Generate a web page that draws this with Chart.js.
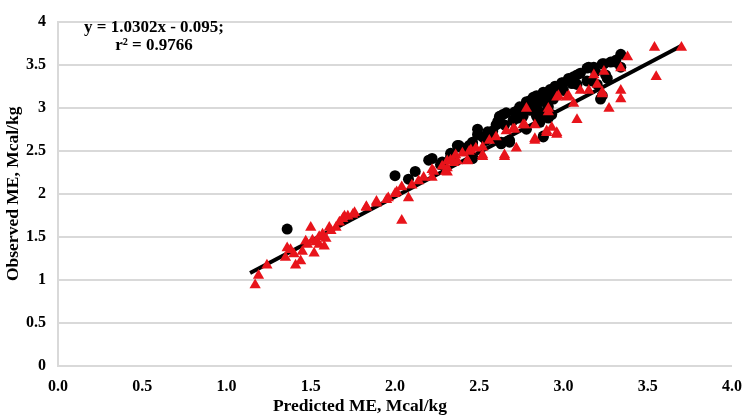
<!DOCTYPE html>
<html>
<head>
<meta charset="utf-8">
<script src="https://cdn.jsdelivr.net/npm/chart.js@4"></script>
<style>
  html, body { margin: 0; padding: 0; background: #fff; }
  #wrap { width: 742px; height: 420px; position: relative; }
</style>
</head>
<body>
<div id="wrap"><canvas id="c" width="742" height="420"></canvas></div>
<script>
// Black circles: [predicted, observed]
const blackX = [1.36,2.00,2.08,2.12,2.20,2.22,2.28,2.27,2.33,2.33,2.34,2.37,2.38,2.39,2.41,2.44,2.46,2.46,2.46,2.46,2.49,2.49,2.52,2.54,2.55,2.56,2.58,2.58,2.60,2.61,2.62,2.62,2.63,2.63,2.64,2.65,2.66,2.68,2.68,2.70,2.71,2.72,2.73,2.73,2.74,2.75,2.76,2.78,2.78,2.78,2.80,2.80,2.81,2.82,2.82,2.84,2.84,2.84,2.84,2.86,2.86,2.86,2.87,2.88,2.88,2.88,2.89,2.90,2.90,2.91,2.91,2.92,2.92,2.93,2.94,2.95,2.95,2.97,2.99,3.00,3.00,3.03,3.03,3.05,3.06,3.08,3.08,3.10,3.14,3.14,3.15,3.17,3.18,3.19,3.20,3.23,3.23,3.22,3.24,3.25,3.26,3.28,3.31,3.31,3.34,3.34];
const blackY = [1.59,2.21,2.17,2.26,2.39,2.41,2.37,2.34,2.43,2.47,2.45,2.56,2.56,2.54,2.52,2.56,2.41,2.43,2.58,2.60,2.75,2.69,2.66,2.62,2.72,2.70,2.65,2.73,2.80,2.84,2.90,2.88,2.60,2.58,2.92,2.80,2.94,2.60,2.62,2.85,2.95,2.88,2.97,2.88,3.01,2.92,2.90,2.75,3.05,3.07,3.08,2.97,3.08,3.12,2.97,3.14,3.12,2.90,3.01,2.95,2.83,3.10,3.08,3.18,2.67,2.66,2.90,3.16,3.05,3.01,2.88,3.21,2.92,2.92,3.10,3.25,3.18,3.22,3.29,3.29,3.20,3.31,3.34,3.28,3.36,3.38,3.27,3.40,3.46,3.31,3.47,3.31,3.47,3.42,3.27,3.51,3.14,3.10,3.51,3.38,3.34,3.53,3.55,3.53,3.62,3.47];

// Red triangles: [predicted, observed]
const redX = [1.17,1.19,1.24,1.36,1.35,1.38,1.41,1.44,1.40,1.45,1.47,1.50,1.48,1.52,1.51,1.53,1.55,1.55,1.57,1.58,1.59,1.61,1.62,1.65,1.67,1.69,1.70,1.72,1.75,1.76,1.83,1.83,1.89,1.89,1.95,1.96,2.00,2.01,2.04,2.04,2.08,2.10,2.14,2.17,2.22,2.22,2.23,2.28,2.30,2.31,2.31,2.31,2.33,2.35,2.36,2.37,2.40,2.43,2.43,2.44,2.45,2.48,2.52,2.52,2.52,2.56,2.60,2.65,2.65,2.66,2.70,2.71,2.72,2.76,2.77,2.78,2.83,2.83,2.83,2.90,2.90,2.91,2.91,2.93,2.96,2.96,2.96,2.97,3.02,3.03,3.06,3.08,3.10,3.15,3.18,3.20,3.23,3.23,3.24,3.27,3.34,3.34,3.34,3.38,3.54,3.55,3.70];
const redY = [0.94,1.05,1.17,1.37,1.26,1.35,1.17,1.22,1.30,1.33,1.45,1.61,1.41,1.31,1.46,1.44,1.50,1.41,1.53,1.39,1.48,1.61,1.57,1.61,1.67,1.71,1.74,1.74,1.76,1.78,1.84,1.85,1.91,1.89,1.93,1.95,2.00,2.02,2.08,1.69,1.95,2.10,2.15,2.19,2.28,2.19,2.26,2.32,2.26,2.30,2.25,2.38,2.39,2.36,2.45,2.38,2.47,2.39,2.38,2.49,2.51,2.53,2.54,2.45,2.43,2.62,2.66,2.43,2.45,2.73,2.75,2.75,2.53,2.80,2.80,2.99,2.80,2.64,2.62,2.73,2.71,2.95,2.99,2.77,2.71,3.12,2.69,3.14,3.12,3.14,3.05,2.86,3.20,3.20,3.38,3.27,3.16,3.18,3.42,2.99,3.46,3.20,3.10,3.59,3.70,3.36,3.70];

// Trendline endpoints (y = 1.0302x - 0.095)
const trendX = [1.14, 3.70];
const trendY = [1.08, 3.72];

const xTicks = [0, 0.5, 1, 1.5, 2, 2.5, 3, 3.5, 4];
const yTicks = [0, 0.5, 1, 1.5, 2, 2.5, 3, 3.5, 4];
const eqLines = ['y = 1.0302x - 0.095;', 'r\u00B2 = 0.9766'];
const xTitle = 'Predicted ME, Mcal/kg';
const yTitle = 'Observed ME, Mcal/kg';

const zip = (xs, ys) => xs.map((x, i) => ({ x: x, y: ys[i] }));
const FONT = "'Liberation Serif', 'Times New Roman', serif";

const textPlugin = {
  id: 'texts',
  afterDatasetsDraw(chart) {
    const ctx = chart.ctx;
    ctx.save();
    ctx.fillStyle = '#000';
    ctx.textAlign = 'center';
    ctx.textBaseline = 'middle';
    ctx.font = 'bold 17px ' + FONT;
    ctx.fillText(eqLines[0], 154, 28);
    ctx.fillText(eqLines[1], 154, 46);
    ctx.font = 'bold 17.5px ' + FONT;
    ctx.fillText(xTitle, 360, 406);
    ctx.restore();
  }
};

new Chart(document.getElementById('c'), {
  type: 'scatter',
  data: {
    datasets: [
      {
        label: 'red',
        data: zip(redX, redY),
        pointStyle: 'triangle',
        pointRadius: 6.5,
        backgroundColor: '#e8141b',
        borderColor: '#e8141b',
        borderWidth: 0,
        order: 0
      },
      {
        label: 'trend',
        type: 'line',
        data: zip(trendX, trendY),
        borderColor: '#000',
        borderWidth: 4,
        pointRadius: 0,
        fill: false,
        order: 1
      },
      {
        label: 'black',
        data: zip(blackX, blackY),
        pointStyle: 'circle',
        pointRadius: 5.5,
        backgroundColor: '#000',
        borderColor: '#000',
        borderWidth: 0,
        order: 2
      }
    ]
  },
  options: {
    responsive: false,
    animation: false,
    devicePixelRatio: 1,
    layout: { padding: { top: 8, right: 0, left: 0, bottom: 0 } },
    plugins: { legend: { display: false }, tooltip: { enabled: false } },
    scales: {
      x: {
        type: 'linear',
        min: 0, max: 4,
        afterBuildTicks(scale) { scale.ticks = xTicks.map(v => ({ value: v })); },
        afterFit(scale) { scale.height = 54; scale.paddingRight = 10; scale.paddingLeft = 0; },
        grid: { display: false, drawTicks: false },
        border: { display: false },
        ticks: {
          padding: 11,
          color: '#000',
          font: { family: FONT, size: 16, weight: 'bold' },
          callback: v => Number(v).toFixed(1),
          maxRotation: 0
        },
        title: { display: false }
      },
      y: {
        type: 'linear',
        min: 0, max: 4,
        afterBuildTicks(scale) { scale.ticks = yTicks.map(v => ({ value: v })); },
        afterFit(scale) { scale.width = 58; },
        grid: { color: '#d9d9d9', lineWidth: 2, drawTicks: false },
        border: { display: true, color: '#d9d9d9', width: 2 },
        ticks: {
          padding: 12,
          color: '#000',
          font: { family: FONT, size: 16, weight: 'bold' },
          callback: v => String(v)
        },
        title: {
          display: true, text: yTitle, color: '#000',
          font: { family: FONT, size: 17.5, weight: 'bold' },
          padding: { top: 2.5, bottom: 0 }
        }
      }
    }
  },
  plugins: [textPlugin]
});
</script>
</body>
</html>
